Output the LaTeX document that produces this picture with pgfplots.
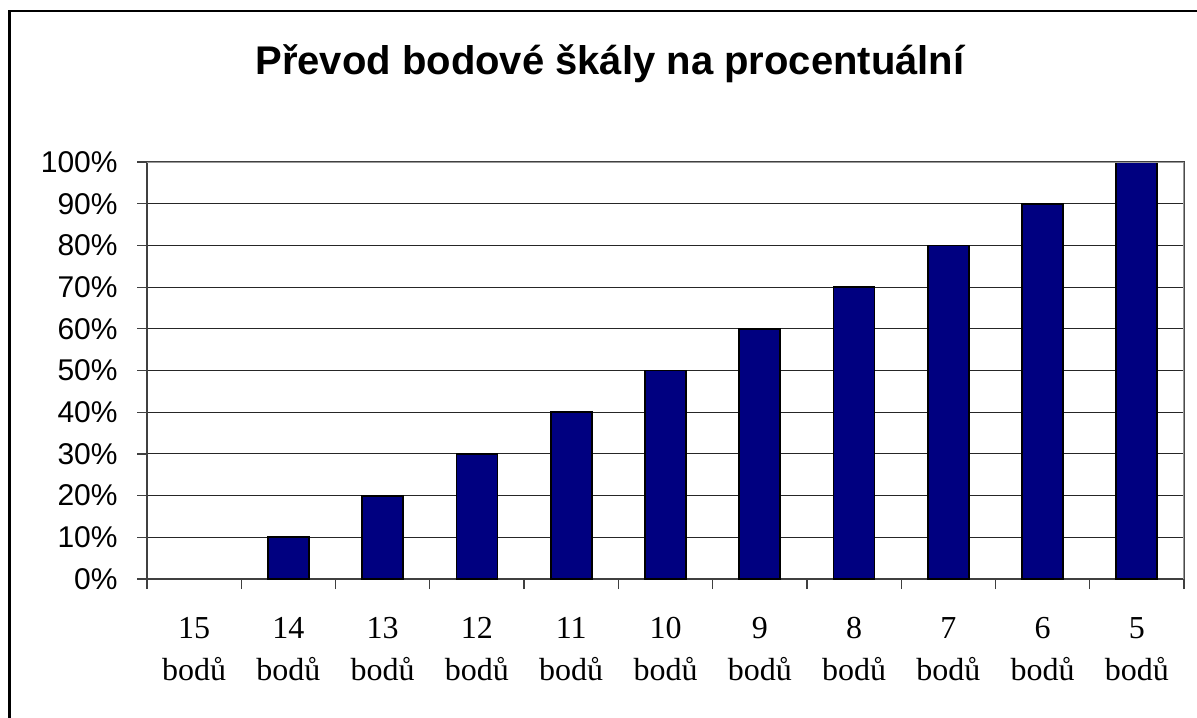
\documentclass[border=0pt]{standalone}
\usepackage{pgfplots}
\pgfplotsset{compat=1.18}
\usepackage{fontspec}
\setmainfont{Liberation Sans}
\newfontfamily\timesf{Liberation Serif}
\definecolor{navybar}{RGB}{0,0,128}
\begin{document}
\begin{tikzpicture}
\useasboundingbox (0,0) rectangle (598.5pt,-358.5pt);
\draw[line width=1.2pt] (4.7pt,-380pt) -- (4.7pt,-5.5pt) -- (620pt,-5.5pt);
\node[anchor=base, font=\bfseries\fontsize{20}{24}\selectfont, inner sep=0pt] at (305pt,-37.5pt) {Převod bodové škály na procentuální};
\begin{axis}[
  at={(73.5pt,-289.5pt)}, anchor=south west,
  scale only axis, width=518.5pt, height=208.5pt,
  xmin=0, xmax=11, ymin=0, ymax=100,
  axis line style={draw=black!75, line width=0.6pt},
  xtick={0,...,11},
  xticklabels={{15\\bodů},{14\\bodů},{13\\bodů},{12\\bodů},{11\\bodů},{10\\bodů},{9\\bodů},{8\\bodů},{7\\bodů},{6\\bodů},{5\\bodů}},
  x tick label as interval,
  ytick={0,10,...,100},
  yticklabels={0\%,10\%,20\%,30\%,40\%,50\%,60\%,70\%,80\%,90\%,100\%},
  tick align=outside, major tick length=5pt,
  tick style={draw=black!75, line width=0.6pt},
  xtick pos=bottom, ytick pos=left,
  ymajorgrids, grid style={draw=black!85, line width=0.5pt},
  yticklabel style={font=\fontsize{15}{18}\selectfont, anchor=east, inner sep=0pt, xshift=-9.5pt},
  xticklabel style={font=\timesf\fontsize{16}{21}\selectfont, align=center, anchor=north, inner sep=0pt, yshift=-14pt},
  /pgf/number format/assume math mode=true,
]
% 15 bodu = 0 % (no visible bar)
\addplot[ybar, bar width=20.5pt, fill=navybar, draw=black, line width=0.9pt] coordinates {
  (1.5,10) (2.5,20) (3.5,30) (4.5,40) (5.5,50) (6.5,60) (7.5,70) (8.5,80) (9.5,90) (10.5,100)
};
\draw[gray!80, line width=0.8pt] (rel axis cs:0,1) -- (rel axis cs:1,1) -- (rel axis cs:1,0);
\end{axis}
\end{tikzpicture}
\end{document}
